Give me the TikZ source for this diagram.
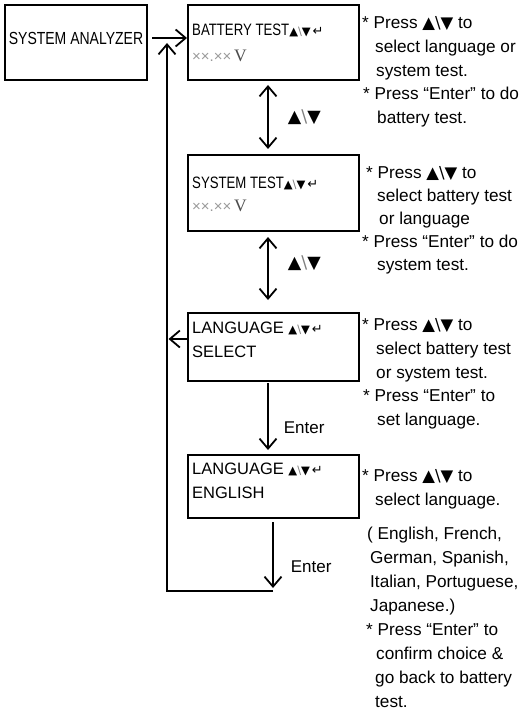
\documentclass[tikz,border=0pt]{standalone}
\usepackage{fontspec}
\setmainfont{Liberation Sans}
\newfontfamily\narrowfont[FakeStretch=0.8]{Liberation Sans}
\newfontfamily\symfont{DejaVu Sans}
\newfontfamily\timesfont{Liberation Serif}
\usetikzlibrary{positioning,arrows.meta}

\newcommand{\arrkeys}{{\symfont\fontsize{11.5}{11.5}\selectfont ▲\textcolor{gray}{\textbackslash}▼\,{\fontsize{13}{13}\selectfont↵}}}
\newcommand{\voltread}{{\color{gray!80}\fontsize{15}{15}\selectfont ××.××}\,{\timesfont\color{gray!60!black}\fontsize{17.5}{17.5}\selectfont V}}
\newcommand{\updn}{{\symfont\fontsize{16.5}{23.5}\selectfont ▲\textbackslash▼}}
\newcommand{\updnkey}{{\symfont\fontsize{17.5}{17.5}\selectfont ▲\textcolor{gray}{\textbackslash}▼}}
\newcommand{\scrn}[1]{{\narrowfont\fontsize{16.5}{24}\selectfont #1}}
\newcommand{\indt}[1]{\hspace*{#1pt}}

\begin{document}
\begin{tikzpicture}[
  x=1pt, y=-1pt,
  screen/.style={draw, line width=1.8pt, minimum width=171pt, anchor=north west, outer sep=0pt, inner sep=0pt},
  disp/.style={anchor=north west, inner sep=0pt, align=left, font=\fontsize{16.5}{24}\selectfont},
  note/.style={anchor=north west, inner sep=0pt, align=left, font=\fontsize{17.2}{23.8}\selectfont},
  arr/.style={line width=1.8pt, -{Straight Barb[length=10pt,width=17pt]}},
  biarr/.style={line width=1.8pt, {Straight Barb[length=10pt,width=17pt]}-{Straight Barb[length=10pt,width=17pt]}},
  lbl/.style={inner sep=0pt, font=\fontsize{17}{17}\selectfont},
]
\useasboundingbox (0,0) rectangle (523,714);

% Screens (top to bottom)
\node[screen, minimum width=142pt, minimum height=75pt] (sa) at (5,5) {};
\node[inner sep=0pt, font=\narrowfont\fontsize{17.5}{24}\selectfont] (sa-txt) at ([yshift=4.5pt]sa.center) {SYSTEM ANALYZER};

\node[screen, minimum height=75pt] (bt) at (188,5) {};
\node[disp, font=\fontsize{16.5}{26}\selectfont, below right=12.3pt and 4pt of bt.north west] (bt-txt) {\strut\scrn{BATTERY TEST}\arrkeys\\ \voltread};

\node[screen, minimum height=76pt] (st) at (188,155) {};
\node[disp, font=\fontsize{16.5}{23}\selectfont, below right=17.3pt and 4pt of st.north west] (st-txt) {\strut\scrn{SYSTEM TEST}\arrkeys\\ \voltread};

\node[screen, minimum height=68pt] (ls) at (188,313) {};
\node[disp, below right=3.3pt and 4pt of ls.north west] (ls-txt) {\strut LANGUAGE \arrkeys\\ SELECT};

\node[screen, minimum height=63pt] (le) at (188,455) {};
\node[disp, below right=2.3pt and 4pt of le.north west] (le-txt) {\strut LANGUAGE \arrkeys\\ ENGLISH};

% Return path
\coordinate (retend) at (273,591);
\coordinate (retcorner) at (167,591);
\coordinate (rettop) at (167,43);
\coordinate (lsout) at ([yshift=8pt]ls.west);

% Arrows
\draw[arr, shorten <=5pt, shorten >=1pt] ([yshift=4.5pt]sa.east) -- ([yshift=4.5pt]bt.west);
\draw[biarr, shorten <=5pt, shorten >=6pt] ([xshift=-5.5pt]bt.south) -- node[lbl, pos=0.5, right=19pt] (k1) {\updnkey} ([xshift=-5.5pt]st.north);
\draw[biarr, shorten <=6pt, shorten >=13pt] ([xshift=-5.5pt]st.south) -- node[lbl, pos=0.39, right=19pt] (k2) {\updnkey} ([xshift=-5.5pt]ls.north);
\draw[arr, shorten <=2pt, shorten >=5pt] ([xshift=-5.5pt]ls.south) -- node[lbl, pos=0.635, right=15pt] (e1) {Enter} ([xshift=-5.5pt]le.north);
\draw[arr, shorten <=4pt, shorten >=3pt] ([xshift=-0.5pt]le.south) -- node[lbl, pos=0.67, right=17pt] (e2) {Enter} (retend);
\draw[arr, line join=miter] (retend) -- (retcorner) -- (rettop);
\draw[arr, shorten >=1.5pt] (lsout) -- (lsout -| rettop);

% Key hints
\node[note] (hint-bt) at (362,11.7) {\strut* Press \updn{} to\\ \indt{13}select language or\\ \indt{14}system test.\\ \indt{1}* Press “Enter” to do\\ \indt{15}battery test.};
\node[note, font=\fontsize{17.2}{23.2}\selectfont] (hint-st) at (366,161.7) {\strut* Press \updn{} to\\ \indt{11}select battery test\\ \indt{13}or language\\ \indt{-4}* Press “Enter” to do\\ \indt{11}system test.};
\node[note] (hint-ls) at (362,313.7) {\strut* Press \updn{} to\\ \indt{14}select battery test\\ \indt{14}or system test.\\ \indt{1}* Press “Enter” to\\ \indt{15}set language.};
\node[note, font=\fontsize{17.2}{24}\selectfont] (hint-le) at (362,464.7) {\strut* Press \updn{} to\\ \indt{13}select language.\\[10pt] \indt{5}( English, French,\\ \indt{8}German, Spanish,\\ \indt{8}Italian, Portuguese,\\ \indt{8}Japanese.)\\ \indt{4}* Press “Enter” to\\ \indt{14}confirm choice \&\\ \indt{13}go back to battery\\ \indt{13}test.};

\end{tikzpicture}
\end{document}
